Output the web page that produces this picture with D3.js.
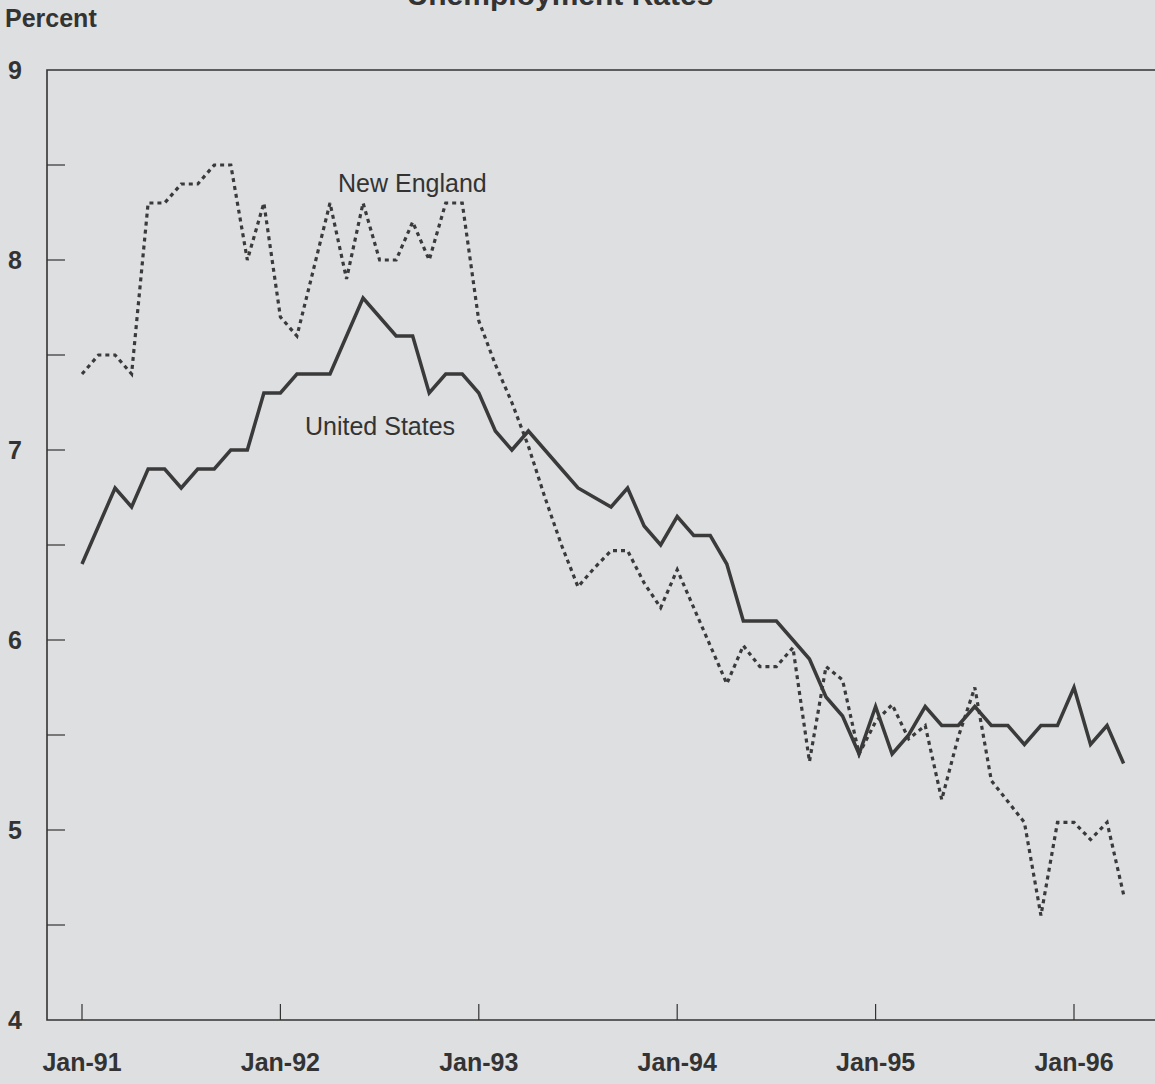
<!DOCTYPE html>
<html>
<head>
<meta charset="utf-8">
<script src="https://cdn.jsdelivr.net/npm/d3@7"></script>
<style>
  body { margin: 0; background: #dedfe1; }
  svg text { font-family: Arial, "Liberation Sans", sans-serif; fill: #333; }
</style>
</head>
<body>
<svg id="chart" width="1155" height="1084"></svg>
<script>
var yearLabels = ["Jan-91", "Jan-92", "Jan-93", "Jan-94", "Jan-95", "Jan-96"];
var yTicks = [4, 5, 6, 7, 8, 9];

// monthly, Jan-91 .. Apr-96
var usRate = [
  6.4, 6.6, 6.8, 6.7, 6.9, 6.9, 6.8, 6.9, 6.9, 7.0, 7.0, 7.3,
  7.3, 7.4, 7.4, 7.4, 7.6, 7.8, 7.7, 7.6, 7.6, 7.3, 7.4, 7.4,
  7.3, 7.1, 7.0, 7.1, 7.0, 6.9, 6.8, 6.75, 6.7, 6.8, 6.6, 6.5,
  6.65, 6.55, 6.55, 6.4, 6.1, 6.1, 6.1, 6.0, 5.9, 5.7, 5.6, 5.4,
  5.65, 5.4, 5.5, 5.65, 5.55, 5.55, 5.65, 5.55, 5.55, 5.45, 5.55, 5.55,
  5.75, 5.45, 5.55, 5.35
];
var neRate = [
  7.4, 7.5, 7.5, 7.4, 8.3, 8.3, 8.4, 8.4, 8.5, 8.5, 8.0, 8.3,
  7.7, 7.6, 7.95, 8.3, 7.9, 8.3, 8.0, 8.0, 8.2, 8.0, 8.3, 8.3,
  7.68, 7.45, 7.25, 7.02, 6.75, 6.5, 6.28, 6.38, 6.47, 6.47, 6.3, 6.17,
  6.37, 6.17, 5.97, 5.77, 5.97, 5.86, 5.86, 5.96, 5.36, 5.86, 5.79, 5.4,
  5.57, 5.66, 5.48, 5.55, 5.16, 5.49, 5.75, 5.26, 5.15, 5.04, 4.55, 5.04,
  5.04, 4.95, 5.04, 4.66
];

var svg = d3.select("#chart");
var plotLeft = 47, plotTop = 70, plotBottom = 1020, plotRight = 1160;

var x = d3.scaleLinear().domain([0, 60]).range([82, 1074]);
var y = d3.scaleLinear().domain([4, 9]).range([plotBottom, plotTop]);

// title, mostly cut off at the top as in the scan
svg.append("text").attr("x", 560).attr("y", 5).attr("text-anchor", "middle")
  .attr("font-size", 30).attr("font-weight", "bold").text("Unemployment Rates");

svg.append("text").attr("x", 5).attr("y", 27)
  .attr("font-size", 25).attr("font-weight", "bold").text("Percent");

// frame
svg.append("path")
  .attr("d", "M" + plotRight + "," + plotTop + "H" + plotLeft + "V" + plotBottom + "H" + plotRight)
  .attr("fill", "none").attr("stroke", "#333").attr("stroke-width", 1.6);

// y ticks every 0.5, inward
svg.selectAll(".yt").data(d3.range(4.5, 9, 0.5)).enter().append("line")
  .attr("x1", plotLeft).attr("x2", plotLeft + 18)
  .attr("y1", function (d) { return y(d); }).attr("y2", function (d) { return y(d); })
  .attr("stroke", "#333").attr("stroke-width", 1.2);

svg.selectAll(".yl").data(yTicks).enter().append("text")
  .attr("x", 8).attr("y", function (d) { return y(d) + 9; })
  .attr("font-size", 25).attr("font-weight", "bold")
  .text(function (d) { return d; });

// x ticks at each January, upward
svg.selectAll(".xt").data(yearLabels).enter().append("line")
  .attr("x1", function (d, i) { return x(i * 12); }).attr("x2", function (d, i) { return x(i * 12); })
  .attr("y1", plotBottom).attr("y2", plotBottom - 16)
  .attr("stroke", "#333").attr("stroke-width", 1.2);

svg.selectAll(".xl").data(yearLabels).enter().append("text")
  .attr("x", function (d, i) { return x(i * 12); }).attr("y", 1071)
  .attr("text-anchor", "middle").attr("font-size", 25).attr("font-weight", "bold")
  .text(function (d) { return d; });

var line = d3.line()
  .x(function (d, i) { return x(i); })
  .y(function (d) { return y(d); });

svg.append("path").datum(neRate).attr("d", line)
  .attr("fill", "none").attr("stroke", "#3a3a3a").attr("stroke-width", 3.2)
  .attr("stroke-dasharray", "4,4");

svg.append("path").datum(usRate).attr("d", line)
  .attr("fill", "none").attr("stroke", "#3a3a3a").attr("stroke-width", 3.5)
  .attr("stroke-linejoin", "miter");

svg.append("text").attr("x", 338).attr("y", 192).attr("font-size", 25).text("New England");
svg.append("text").attr("x", 305).attr("y", 435).attr("font-size", 25).text("United States");
</script>
</body>
</html>
